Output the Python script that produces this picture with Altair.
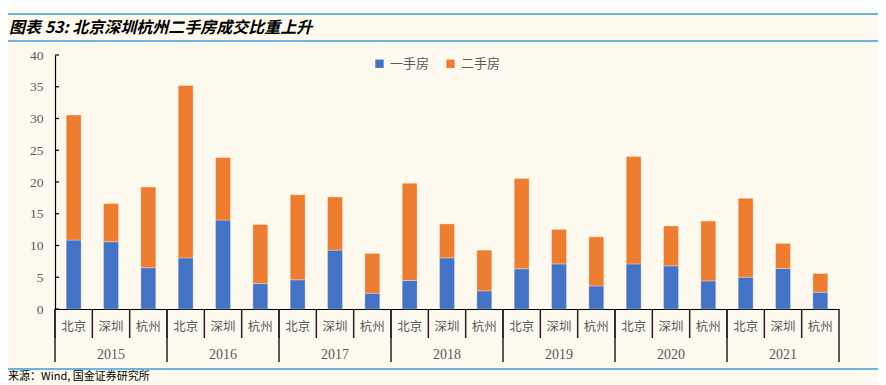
import altair as alt
import pandas as pd

years = ["2015", "2016", "2017", "2018", "2019", "2020", "2021"]
cities = ["北京", "深圳", "杭州"]
series_names = ["一手房", "二手房"]
first_hand = [10.85, 10.6, 6.5, 8.05, 14.0, 4.0, 4.6, 9.27, 2.48, 4.48, 8.06, 2.85,
              6.32, 7.1, 3.63, 7.1, 6.8, 4.42, 5.0, 6.38, 2.64]
second_hand = [19.7, 6.0, 12.7, 27.15, 9.85, 9.3, 13.4, 8.38, 6.27, 15.32, 5.34, 6.42,
               14.23, 5.44, 7.74, 16.9, 6.27, 9.43, 12.44, 3.95, 2.95]
y_ticks = [0, 5, 10, 15, 20, 25, 30, 35, 40]
colors = ["#4472C4", "#ED7D31"]
title_text = "图表 53:  北京深圳杭州二手房成交比重上升"
source_text = "来源：Wind, 国金证券研究所"

BG = "#FDF9EE"
LINE_BLUE = "#6BB6DE"
W, H = 784, 254

keys = [f"{y}-{c}" for y in years for c in cities]
rows = []
for i, k in enumerate(keys):
    y, c = k.split("-")
    rows.append(dict(key=k, year=y, city=c, series=series_names[0], value=first_hand[i], order=0))
    rows.append(dict(key=k, year=y, city=c, series=series_names[1], value=second_hand[i], order=1))
bars_df = pd.DataFrame(rows)

xscale = alt.Scale(domain=keys, paddingInner=0, paddingOuter=0)
yscale = alt.Scale(domain=[0, 40], nice=False, zero=True)
xaxis = alt.Axis(labels=False, ticks=False, title=None, grid=False,
                 domainColor="black", domainWidth=1.2)
yaxis = alt.Axis(values=y_ticks, tickSize=0, labelPadding=12, title=None,
                 grid=False, labelOverlap=False, labelFlush=False,
                 domainColor="black", domainWidth=1.2,
                 labelFont="Liberation Serif", labelFontSize=13.5, labelColor="#595959")


def X(band=0.5):
    return alt.X("key:N", sort=keys, scale=xscale, axis=xaxis, bandPosition=band)


bars = alt.Chart(bars_df).mark_bar(width=alt.RelativeBandSize(0.4), stroke="white",
                                   strokeWidth=0.6, strokeOpacity=0.5).encode(
    x=alt.X("key:N", sort=keys, scale=xscale, axis=xaxis),
    y=alt.Y("value:Q", stack="zero", scale=yscale, axis=yaxis),
    color=alt.Color("series:N", scale=alt.Scale(domain=series_names, range=colors),
                    legend=alt.Legend(orient="none", legendX=318, legendY=2, direction="horizontal",
                                      title=None, symbolType="square", symbolSize=70,
                                      symbolStrokeWidth=0, labelFont="Noto Sans CJK SC",
                                      labelFontSize=13, labelColor="#595959",
                                      columnPadding=14, labelOffset=4)),
    order=alt.Order("order:Q"),
)

ytick_df = pd.DataFrame({"value": y_ticks})
yticks = alt.Chart(ytick_df).mark_rule(color="black", strokeWidth=1.2).encode(
    y=alt.Y("value:Q", scale=yscale, axis=yaxis), x=alt.value(0), x2=alt.value(4))

city_df = pd.DataFrame({"key": keys, "city": [k.split("-")[1] for k in keys]})
city_labels = alt.Chart(city_df).mark_text(font="Noto Sans CJK SC", fontSize=12.5,
                                           color="#595959", baseline="middle").encode(
    x=X(0.5), y=alt.value(H + 18), text="city:N")

year_df = pd.DataFrame({"key": [f"{y}-{cities[1]}" for y in years], "year": years})
year_labels = alt.Chart(year_df).mark_text(font="Liberation Serif", fontSize=14,
                                           color="#595959", baseline="middle").encode(
    x=X(0.5), y=alt.value(H + 46), text="year:N")

short_sep = alt.Chart(city_df).mark_rule(color="#222222", strokeWidth=1.5).encode(
    x=X(0), y=alt.value(H), y2=alt.value(H + 29))

year_start_df = pd.DataFrame({"key": [f"{y}-{cities[0]}" for y in years]})
long_sep = alt.Chart(year_start_df).mark_rule(color="#222222", strokeWidth=1.5).encode(
    x=X(0), y=alt.value(H), y2=alt.value(H + 53))

end_df = pd.DataFrame({"key": [keys[-1]]})
end_sep = alt.Chart(end_df).mark_rule(color="#222222", strokeWidth=1.5).encode(
    x=X(1), y=alt.value(H), y2=alt.value(H + 53))

hline_df = pd.DataFrame({"y": [-41, -14, H + 60]})
hlines = alt.Chart(hline_df).mark_rule(color=LINE_BLUE, strokeWidth=2).encode(
    y=alt.value(0), x=alt.value(-47), x2=alt.value(W + 40))
hlines = alt.layer(*[
    alt.Chart(pd.DataFrame({"y": [yy]})).mark_rule(color=LINE_BLUE, strokeWidth=2).encode(
        y=alt.value(yy), x=alt.value(-47), x2=alt.value(W + 40))
    for yy in hline_df["y"]
])

title_df = pd.DataFrame({"t": [title_text]})
title = alt.Chart(title_df).mark_text(font="Noto Sans CJK SC", fontSize=16, fontStyle="italic",
                                      fontWeight="bold", align="left", baseline="middle",
                                      color="black").encode(
    x=alt.value(-46), y=alt.value(-27), text="t:N")

src_df = pd.DataFrame({"t": [source_text]})
source = alt.Chart(src_df).mark_text(font="Noto Sans CJK SC", fontSize=11, align="left",
                                     baseline="middle", color="black").encode(
    x=alt.value(-47), y=alt.value(H + 68), text="t:N")

chart = alt.layer(hlines, title, bars, yticks, short_sep, long_sep, end_sep,
                  city_labels, year_labels, source).properties(
    width=W, height=H,
    autosize=alt.AutoSizeParams(type="none"),
    padding={"left": 47, "top": 47, "right": 39, "bottom": 76},
    background=BG,
).configure_view(stroke=None)

chart.save("out.html", embed_options={"renderer": "svg", "actions": False})
